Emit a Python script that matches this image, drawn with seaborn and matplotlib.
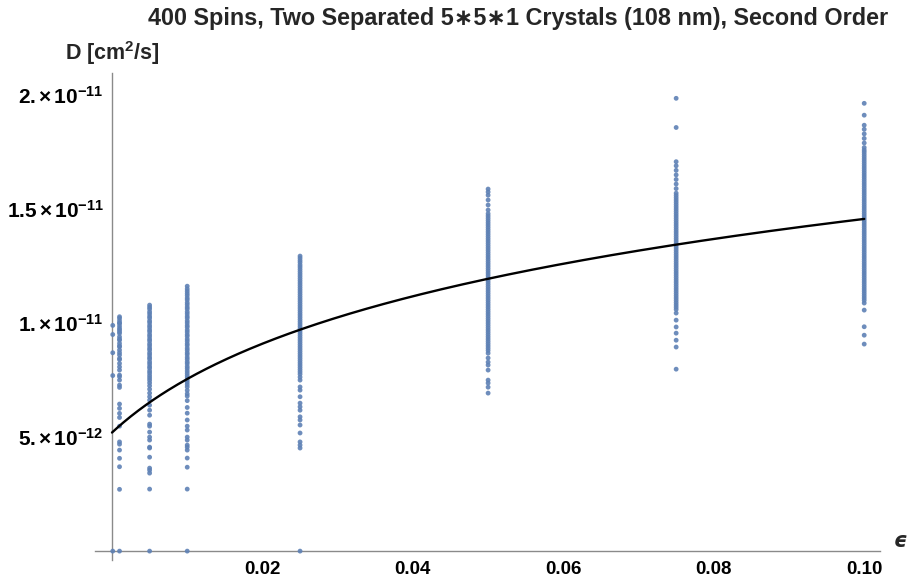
import numpy as np
import pandas as pd
import matplotlib
matplotlib.use("Agg")
import matplotlib.pyplot as plt
import seaborn as sns
from matplotlib.ticker import FixedLocator, MultipleLocator

sns.set_theme(style="white")
plt.rcParams['font.family'] = ['Liberation Sans', 'DejaVu Sans']
plt.rcParams['mathtext.fontset'] = 'custom'
plt.rcParams['mathtext.rm'] = 'Liberation Sans:bold'
plt.rcParams['mathtext.bf'] = 'Liberation Sans:bold'
plt.rcParams['mathtext.it'] = 'Liberation Sans:bold:italic'

# ---- data (D values in units of 1e-12 cm^2/s) ----
eps_00001 = [9.9, 9.5, 8.7, 7.7, 0.0]
eps_0001 = [10.28, 10.21, 10.10, 10.0, 9.99, 9.87, 9.77, 9.7, 9.62, 9.55, 9.40, 9.3, 9.25,
            9.11, 9.0, 8.96, 8.82, 8.7, 8.60, 8.45, 8.4, 8.23, 8.08, 7.94, 7.72, 7.65,
            7.50, 7.28, 7.18, 6.45, 6.26, 6.04, 5.86, 5.48, 4.79, 4.69, 4.43, 4.07,
            3.70, 2.71, 0.0]
eps_0005 = [10.79, 10.7, 10.62, 10.5, 10.41, 10.3, 10.22, 10.1, 10.02, 9.9, 9.81, 9.7,
            9.62, 9.5, 9.41, 9.3, 9.22, 9.1, 9.01, 8.9, 8.82, 8.7, 8.61, 8.5, 8.42, 8.3,
            8.21, 8.1, 8.02, 7.9, 7.81, 7.7, 7.6, 7.5, 7.38, 7.25, 7.1, 6.93, 6.77, 6.62,
            6.40, 6.18, 5.96, 5.57, 5.48, 5.22, 5.0, 4.87, 4.56, 4.52, 4.12, 3.64, 3.55,
            3.42, 2.72, 0.0]
eps_001 = [11.62, 11.5, 11.4, 11.3, 11.21, 11.1, 11.02, 10.9, 10.81, 10.7, 10.62, 10.5,
           10.41, 10.3, 10.22, 10.1, 10.01, 9.9, 9.82, 9.7, 9.61, 9.5, 9.42, 9.3, 9.21,
           9.1, 9.02, 8.9, 8.81, 8.7, 8.62, 8.5, 8.41, 8.3, 8.22, 8.1, 8.01, 7.9, 7.8,
           7.7, 7.6, 7.5, 7.4, 7.3, 7.2, 7.05, 6.9, 6.8, 6.6, 6.3, 6.05, 5.75, 5.48,
           5.31, 5.0, 4.87, 4.65, 4.56, 4.43, 4.08, 3.68, 2.72, 0.0]
eps_0025 = [12.94, 12.85, 12.75, 12.66, 12.55, 12.46, 12.36, 12.26, 12.16, 12.06, 11.96,
            11.86, 11.76, 11.66, 11.56, 11.46, 11.36, 11.26, 11.16, 11.06, 10.96, 10.86,
            10.76, 10.66, 10.56, 10.46, 10.36, 10.26, 10.16, 10.06, 9.96, 9.86, 9.76,
            9.66, 9.56, 9.46, 9.36, 9.26, 9.16, 9.06, 8.96, 8.86, 8.76, 8.66, 8.56,
            8.46, 8.36, 8.26, 8.16, 8.06, 7.96, 7.86, 7.76, 7.63, 7.5, 7.2, 7.06, 6.77,
            6.49, 6.33, 6.18, 5.89, 5.75, 5.53, 5.18, 4.79, 4.65, 4.52, 0.0]
eps_005 = [15.88, 15.75, 15.61, 15.4, 15.18, 14.96, 14.8, 14.7, 14.6, 14.5, 14.4, 14.3,
           14.2, 14.1, 14.0, 13.9, 13.8, 13.7, 13.6, 13.5, 13.4, 13.3, 13.2, 13.1, 13.0,
           12.9, 12.8, 12.7, 12.6, 12.5, 12.4, 12.3, 12.2, 12.1, 12.0, 11.9, 11.8, 11.7,
           11.6, 11.5, 11.4, 11.3, 11.2, 11.1, 11.0, 10.9, 10.8, 10.7, 10.6, 10.5, 10.4,
           10.3, 10.2, 10.1, 10.0, 9.9, 9.8, 9.7, 9.6, 9.5, 9.4, 9.3, 9.2, 9.1, 9.0,
           8.9, 8.8, 8.68, 8.47, 8.29, 8.16, 7.94, 7.5, 7.37, 7.19, 6.93]
eps_0075 = [19.86, 18.58, 17.08, 16.9, 16.7, 16.5, 16.3, 16.1, 15.9, 15.7, 15.6, 15.5,
            15.4, 15.3, 15.2, 15.1, 15.0, 14.9, 14.8, 14.7, 14.6, 14.5, 14.4, 14.3, 14.2,
            14.1, 14.0, 13.9, 13.8, 13.7, 13.6, 13.5, 13.4, 13.3, 13.2, 13.1, 13.0, 12.9,
            12.8, 12.7, 12.6, 12.5, 12.4, 12.3, 12.2, 12.1, 12.0, 11.9, 11.8, 11.7, 11.6,
            11.5, 11.4, 11.3, 11.2, 11.1, 11.0, 10.9, 10.8, 10.7, 10.6, 10.44, 10.13,
            9.83, 9.56, 9.25, 8.95, 7.98]
eps_01 = [19.64, 19.12, 18.68, 18.5, 18.3, 18.1, 17.9, 17.7, 17.59, 17.5, 17.4, 17.3,
          17.2, 17.1, 17.0, 16.9, 16.8, 16.7, 16.6, 16.5, 16.4, 16.3, 16.2, 16.1, 16.0,
          15.9, 15.8, 15.7, 15.6, 15.5, 15.4, 15.3, 15.2, 15.1, 15.0, 14.9, 14.8, 14.7,
          14.6, 14.5, 14.4, 14.3, 14.2, 14.1, 14.0, 13.9, 13.8, 13.7, 13.6, 13.5, 13.4,
          13.3, 13.2, 13.1, 13.0, 12.9, 12.8, 12.7, 12.6, 12.5, 12.4, 12.3, 12.2, 12.1,
          12.0, 11.9, 11.8, 11.7, 11.6, 11.5, 11.4, 11.3, 11.2, 11.1, 11.0, 10.88,
          10.57, 9.84, 9.47, 9.08]

eps_values = [0.0001, 0.001, 0.005, 0.01, 0.025, 0.05, 0.075, 0.1]
columns = [eps_00001, eps_0001, eps_0005, eps_001, eps_0025, eps_005, eps_0075, eps_01]

# fitted curve D(eps) = c0 + a * ln(1 + eps / e0)   (units 1e-12)
fit_c0 = 5.2
fit_a = 4.6
fit_e0 = 0.015

x_ticks = [0.02, 0.04, 0.06, 0.08, 0.10]
x_tick_labels = ["0.02", "0.04", "0.06", "0.08", "0.10"]
y_ticks = [5e-12, 1e-11, 1.5e-11, 2e-11]
y_tick_labels = ["5.$\\,$×$\\,$10$^{-12}$", "1.$\\,$×$\\,$10$^{-11}$",
                 "1.5$\\,$×$\\,$10$^{-11}$", "2.$\\,$×$\\,$10$^{-11}$"]

rows = []
for e, col in zip(eps_values, columns):
    for v in col:
        rows.append((e, v * 1e-12))
df = pd.DataFrame(rows, columns=["eps", "D"])

xc = np.linspace(0, 0.1, 400)
curve = pd.DataFrame({"eps": xc, "D": (fit_c0 + fit_a * np.log1p(xc / fit_e0)) * 1e-12})

W, H = 909, 584
fig = plt.figure(figsize=(W / 100, H / 100), dpi=100)
ax = fig.add_axes([95 / W, 1 - 560 / H, (880 - 95) / W, (560 - 73) / H])
ax.set_facecolor("white")

sns.scatterplot(data=df, x="eps", y="D", ax=ax, s=12, color="#5E81B5",
                edgecolor="none", alpha=0.9, zorder=3)
sns.lineplot(data=curve, x="eps", y="D", ax=ax, color="black", lw=1.7, zorder=4)

ax.set_xlim(-0.00226, 0.1021)
ax.set_ylim(-3.9e-13, 2.097e-11)

for s in ["top", "right"]:
    ax.spines[s].set_visible(False)
ax.spines["left"].set_position(("data", 0))
ax.spines["bottom"].set_position(("data", 0))
for s in ["left", "bottom"]:
    ax.spines[s].set_color("#8a8a8a")
    ax.spines[s].set_linewidth(1.0)

ax.xaxis.set_major_locator(FixedLocator(x_ticks))
ax.set_xticklabels(x_tick_labels)
ax.xaxis.set_minor_locator(MultipleLocator(0.005))
ax.yaxis.set_major_locator(FixedLocator(y_ticks))
ax.set_yticklabels(y_tick_labels)
ax.yaxis.set_minor_locator(MultipleLocator(1e-12))

ax.tick_params(axis="both", which="major", direction="in", length=5, width=1,
               color="#8a8a8a", labelcolor="black")
ax.tick_params(axis="both", which="minor", direction="in", length=3, width=0.8,
               color="#8a8a8a")
ax.tick_params(axis="x", which="major", pad=7, labelsize=13.5)
ax.tick_params(axis="y", which="major", pad=6, labelsize=15)
for lab in ax.get_xticklabels() + ax.get_yticklabels():
    lab.set_fontweight("bold")

ax.set_xlabel("")
ax.set_ylabel("")
ax.grid(False)

fig.text(518 / W, 1 - 18 / H, "400 Spins, Two Separated 5∗5∗1 Crystals (108 nm), Second Order",
         ha="center", va="center", fontsize=16.8, fontweight="bold",
         family=["Liberation Sans", "DejaVu Sans"])
fig.text(65 / W, 1 - 53 / H, "D [cm$^2$/s]", ha="left", va="center", fontsize=15.5,
         fontweight="bold")
fig.text(893 / W, 1 - 541 / H, "ϵ", ha="left", va="center", fontsize=15,
         fontweight="bold", fontstyle="italic", family=["DejaVu Sans"])

fig.savefig("out.png", dpi=100, facecolor="white")
